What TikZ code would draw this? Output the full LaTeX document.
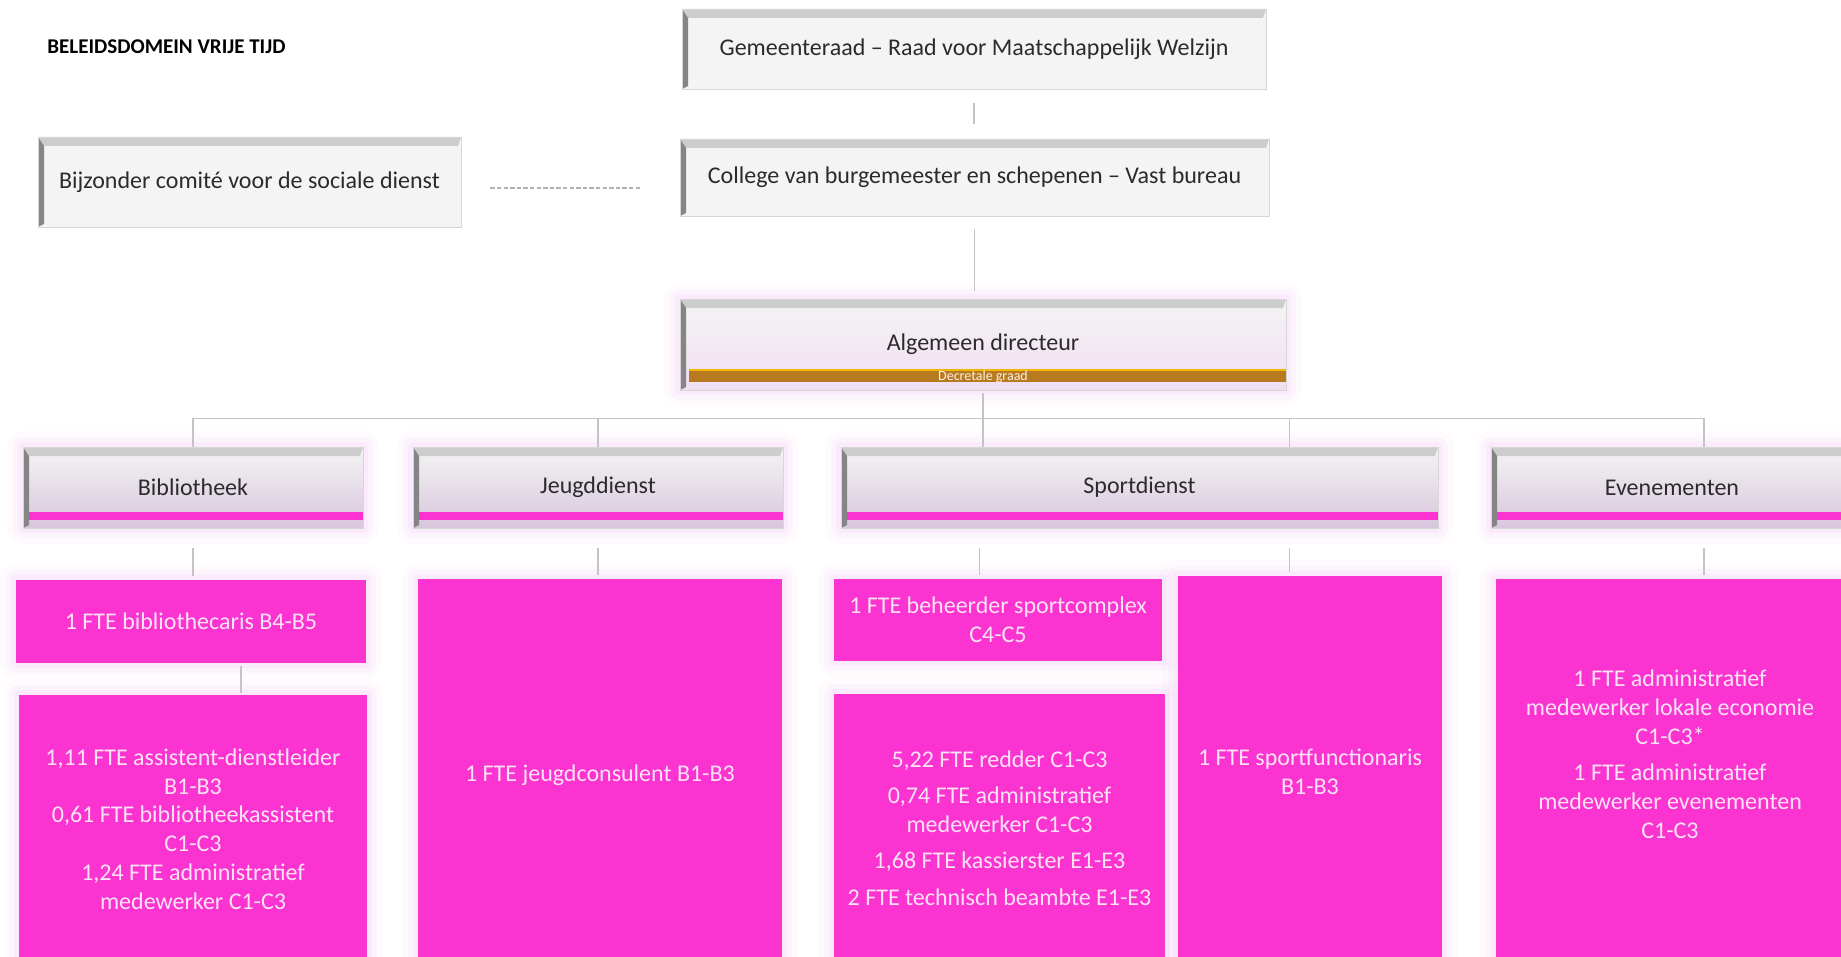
\documentclass[tikz,border=0pt]{standalone}
\usepackage{fontspec}
\setmainfont{Carlito}
\usepackage{tikz}
\usetikzlibrary{positioning,calc}

\definecolor{boxgray}{HTML}{F4F4F4}
\definecolor{boxedge}{HTML}{D6D6D6}
\definecolor{bevtop}{HTML}{CDCDCD}
\definecolor{bevleft}{HTML}{858585}
\definecolor{lavender}{HTML}{D8C6DC}
\definecolor{lichtroze}{HTML}{F1DEF3}
\definecolor{roze}{HTML}{FB33D0}
\definecolor{rozetext}{HTML}{FBE3F6}
\definecolor{glowpink}{HTML}{E9A6EE}
\definecolor{oranje}{HTML}{B87A1E}
\definecolor{geel}{HTML}{F2B705}
\definecolor{lijn}{HTML}{C4C4C4}
\definecolor{tekst}{HTML}{2B2B2B}

% 3D rand van de grijze vakken
\newcommand{\bevel}{%
  \coordinate (nw) at (path picture bounding box.north west);
  \coordinate (ne) at (path picture bounding box.north east);
  \coordinate (sw) at (path picture bounding box.south west);
  \coordinate (se) at (path picture bounding box.south east);
  \fill[bevtop] (nw) -- (ne) -- ([shift={(-1.5pt,-4.5pt)}]ne) -- ([shift={(3pt,-4.5pt)}]nw) -- cycle;
  \fill[bevleft] (nw) -- ([shift={(3pt,-4.5pt)}]nw) -- ([shift={(3pt,1.5pt)}]sw) -- (sw) -- cycle;
}
\newcommand{\rozebalk}{%
  \fill[roze] ([shift={(3pt,4pt)}]sw) rectangle ([shift={(0pt,8pt)}]se);
}
\newcommand{\oranjebalk}{%
  \fill[oranje] ([shift={(4.5pt,4pt)}]sw) rectangle ([shift={(0pt,10pt)}]se);
  \draw[geel, line width=0.8pt] ([shift={(4.5pt,10pt)}]sw) -- ([shift={(0pt,10pt)}]se);
}

\begin{document}
\begin{tikzpicture}[x=1pt, y=-1pt,
    glow/.style={
      preaction={draw=glowpink, draw opacity=0.05, line width=16pt, line join=round},
      preaction={draw=glowpink, draw opacity=0.08, line width=10pt, line join=round},
      preaction={draw=glowpink, draw opacity=0.12, line width=5pt, line join=round}},
    grijs/.style={rectangle, draw=boxedge, line width=0.4pt, fill=boxgray, inner sep=0pt,
      text=tekst, font=\fontsize{12}{14.4}\selectfont, path picture={\bevel}},
    afdeling/.style={grijs, glow, top color=boxgray, bottom color=lavender,
      minimum height=40.5pt, path picture={\bevel\rozebalk}},
    roos/.style={rectangle, fill=roze, glow, inner sep=0pt, rozetekst},
    rozetekst/.style={text=rozetext, font=\fontsize{12}{14.4}\selectfont, align=center},
    titel/.style={font=\bfseries\fontsize{10.5}{12}\selectfont, text=black, inner sep=0pt},
    decretaal/.style={font=\fontsize{7}{7}\selectfont, text=rozetext!60!oranje!20!white, inner sep=0pt},
    verbinding/.style={draw=lijn, line width=0.6pt}
]
    \useasboundingbox (0,0) rectangle (920.5,478.5);

    \node[titel, anchor=west] (titel) at (23.5,23.5) {BELEIDSDOMEIN VRIJE TIJD};

    % bestuur
    \node[grijs, minimum width=292pt, minimum height=40pt] (gem) at (487,24.5)
        {Gemeenteraad – Raad voor Maatschappelijk Welzijn};
    \node[grijs, minimum width=294.5pt, minimum height=38.5pt] (col) at (487.25,88.75)
        {College van burgemeester en schepenen – Vast bureau};
    \node[grijs, minimum width=211.5pt, minimum height=45pt] (bijz) at (124.75,91)
        {Bijzonder comité voor de sociale dienst};
    \node[grijs, glow, top color=boxgray, bottom color=lichtroze, minimum width=303pt,
          minimum height=45.5pt, path picture={\bevel\oranjebalk}] (alg) at (491.5,172.25)
        {Algemeen directeur};
    \node[decretaal] (graad) at ([yshift=7pt]alg.south) {Decretale graad};

    % diensten
    \node[afdeling, minimum width=170pt] (bib) at (96.5,243.75) {Bibliotheek};
    \node[afdeling, minimum width=185pt] (jeugd) at (299,243.75) {Jeugddienst};
    \node[afdeling, minimum width=298.5pt] (sport) at (569.75,243.75) {Sportdienst};
    \node[afdeling, minimum width=181pt] (even) at (836,243.75) {Evenementen};

    % personeel
    \node[roos, minimum width=175pt, minimum height=41.5pt] (bib1) at (95.5,310.75)
        {1 FTE bibliothecaris B4-B5};
    \node[roos, minimum width=174pt, minimum height=134pt] (bib2) at (96.5,414.5)
        {1,11 FTE assistent-dienstleider\\ B1-B3\\ 0,61 FTE bibliotheekassistent\\ C1-C3\\
         1,24 FTE administratief\\ medewerker C1-C3};
    \node[roos, minimum width=182pt, minimum height=196pt] (jeugdbox) at (300,387.5)
        {1 FTE jeugdconsulent B1-B3};
    \node[roos, minimum width=164pt, minimum height=41pt] (sport1) at (499,310)
        {1 FTE beheerder sportcomplex\\ C4-C5};
    \node[roos, minimum width=165.5pt, minimum height=134pt] (sport2) at (499.75,414)
        {5,22 FTE redder C1-C3\\[3.8pt] 0,74 FTE administratief\\ medewerker C1-C3\\[3.8pt]
         1,68 FTE kassierster E1-E3\\[3.8pt] 2 FTE technisch beambte E1-E3};
    \node[roos, minimum width=132pt, minimum height=195.5pt] (sport3) at (655,385.75)
        {1 FTE sportfunctionaris\\ B1-B3};
    \node[roos, minimum width=178pt, minimum height=200pt] (evenbox) at (837,389.5) {};
    \node[rozetekst] (eventekst) at (835,377)
        {1 FTE administratief\\ medewerker lokale economie\\ C1-C3*\\[3.8pt]
         1 FTE administratief\\ medewerker evenementen\\ C1-C3};

    % lijnen
    \draw[verbinding, shorten <=7pt, shorten >=7.5pt] (gem.south) -- (gem.south |- col.north);
    \draw[verbinding, shorten <=6.5pt, shorten >=4pt] (col.south) -- (col.south |- alg.north);
    \draw[verbinding, draw=gray!60, line width=0.8pt, dash pattern=on 2.2pt off 1.1pt,
          shorten <=14.5pt, shorten >=20pt] ([yshift=-3pt]bijz.east) -- ([yshift=-3pt]bijz.east -| col.west);
    \draw[verbinding, shorten <=1.5pt] (alg.south) -- (alg.south |- sport.north);
    \coordinate (bus) at ($(alg.south)!0.5!(sport.north)$);
    \draw[verbinding] (bib.north) -- (bib.north |- bus) -| ([xshift=16pt]even.north);
    \foreach \n/\dx in {jeugd/0, sport/75}
        \draw[verbinding] ([xshift=\dx pt]\n.north) -- ([xshift=\dx pt]\n.north |- bus);
    \foreach \van/\naar/\dx in {bib/bib1/0, jeugd/jeugdbox/0, sport/sport1/-80, sport/sport3/75, even/evenbox/16}
        \draw[verbinding, shorten <=10pt, shorten >=2pt] ([xshift=\dx pt]\van.south) -- ([xshift=\dx pt]\van.south |- \naar.north);
    \draw[verbinding, shorten <=1.5pt, shorten >=1pt] ([xshift=25pt]bib1.south) -- ([xshift=25pt]bib1.south |- bib2.north);
\end{tikzpicture}
\end{document}
